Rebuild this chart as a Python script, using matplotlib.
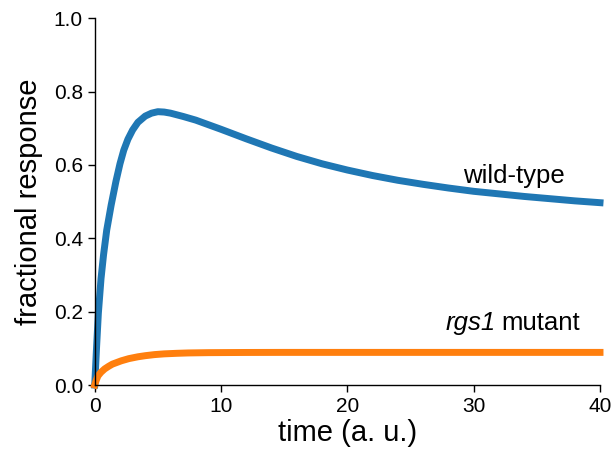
import matplotlib
matplotlib.use("Agg")
import matplotlib.pyplot as plt

plt.rcParams['font.family'] = ['Liberation Sans', 'DejaVu Sans']

# values
wt_time = [0, 0.15, 0.29, 0.5, 0.7, 0.95, 1.3, 1.68, 2.0, 2.3, 2.63, 3.0, 3.42, 4.0, 4.5,
           5.0, 5.5, 6.0, 7.0, 8.0, 10.0, 12.0, 14.0, 16.0, 18.0, 20.0, 22.0, 24.0, 26.0,
           28.0, 30.0, 32.0, 34.0, 36.0, 38.0, 40.0]
wt_resp = [0, 0.105, 0.196, 0.29, 0.355, 0.422, 0.49, 0.555, 0.603, 0.64, 0.670, 0.695,
           0.716, 0.733, 0.741, 0.745, 0.744, 0.741, 0.732, 0.722, 0.697, 0.671, 0.646,
           0.623, 0.603, 0.586, 0.571, 0.558, 0.547, 0.537, 0.528, 0.521, 0.514, 0.508,
           0.502, 0.497]

mut_time = [0, 0.13, 0.26, 0.5, 0.79, 1.1, 1.4, 2.1, 2.7, 3.42, 4.0, 4.74, 5.5, 6.5, 7.4,
            9.0, 12.0, 15.0, 40.0]
mut_resp = [0, 0.014, 0.025, 0.035, 0.044, 0.051, 0.057, 0.066, 0.072, 0.077, 0.080, 0.083,
            0.085, 0.0865, 0.0875, 0.0883, 0.0888, 0.089, 0.089]

fig = plt.figure(figsize=(6.11, 4.53), dpi=100)
ax = fig.add_axes([0.155, 0.150, 0.827, 0.810])

ax.plot(wt_time, wt_resp, color='#1f77b4', lw=5, clip_on=False)
ax.plot(mut_time, mut_resp, color='#ff7f0e', lw=5, clip_on=False)

ax.text(33.15, 0.552, 'wild-type', fontsize=18.5, ha='center', va='baseline')
ax.text(31.72, 0.150, 'rgs1', fontsize=18.5, ha='right', va='baseline', style='italic')
ax.text(32.2, 0.150, 'mutant', fontsize=18.5, ha='left', va='baseline')

ax.set_xlim(0, 40)
ax.set_ylim(0, 1.0)
ax.set_xticks([0, 10, 20, 30, 40])
ax.set_yticks([0.0, 0.2, 0.4, 0.6, 0.8, 1.0])
ax.tick_params(labelsize=15, length=5, width=1)
ax.set_xlabel('time (a. u.)', fontsize=21, labelpad=2)
ax.set_ylabel('fractional response', fontsize=21, labelpad=8)

ax.spines['top'].set_visible(False)
ax.spines['right'].set_visible(False)
for s in ['left', 'bottom']:
    ax.spines[s].set_linewidth(1.0)

fig.savefig('out.png', dpi=100)
